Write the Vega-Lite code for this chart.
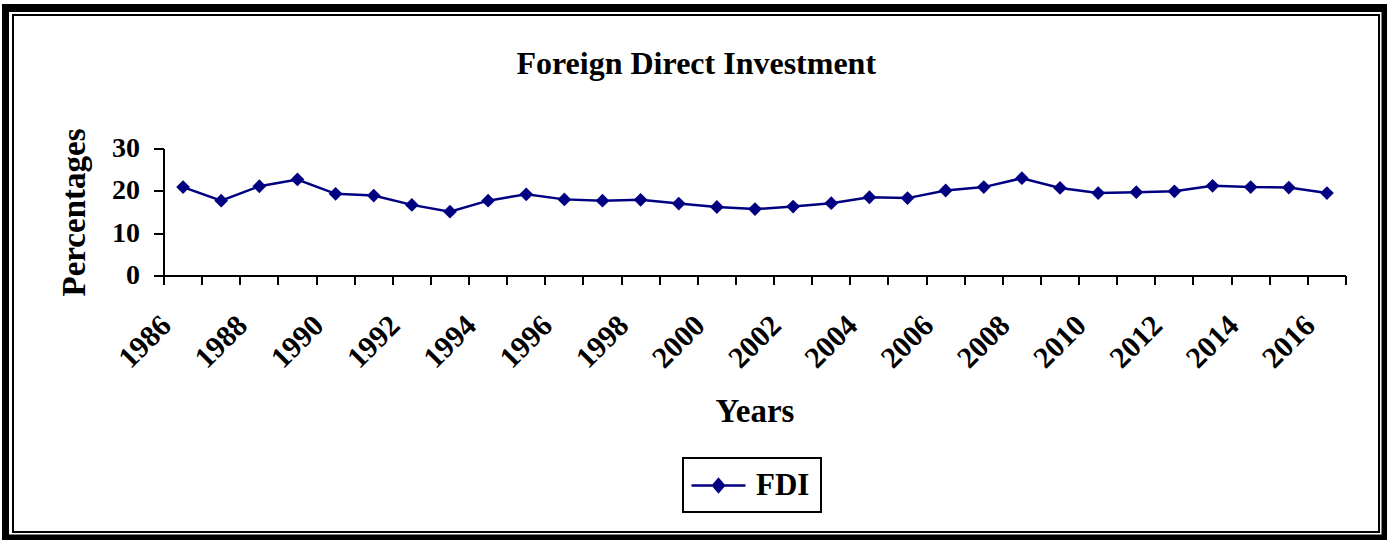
{
  "$schema": "https://vega.github.io/schema/vega-lite/v6.json",
  "width": 1182,
  "height": 127,
  "autosize": {"type": "none"},
  "padding": {"left": 164, "top": 149, "right": 41, "bottom": 264},
  "background": "white",
  "title": {
    "text": "Foreign Direct Investment",
    "frame": "bounds",
    "anchor": "middle",
    "offset": -73,
    "dx": -81,
    "font": "Liberation Serif",
    "fontSize": 32,
    "fontWeight": "bold",
    "color": "black"
  },
  "config": {"view": {"stroke": null}, "axis": {"translate": 0}},
  "layer": [
    {
      "data": {
        "values": [
          {"year": 1986, "fdi": 21.0},
          {"year": 1987, "fdi": 17.8},
          {"year": 1988, "fdi": 21.2},
          {"year": 1989, "fdi": 22.8},
          {"year": 1990, "fdi": 19.4},
          {"year": 1991, "fdi": 19.0},
          {"year": 1992, "fdi": 16.8},
          {"year": 1993, "fdi": 15.2},
          {"year": 1994, "fdi": 17.8},
          {"year": 1995, "fdi": 19.3},
          {"year": 1996, "fdi": 18.1},
          {"year": 1997, "fdi": 17.8},
          {"year": 1998, "fdi": 18.0},
          {"year": 1999, "fdi": 17.1},
          {"year": 2000, "fdi": 16.3},
          {"year": 2001, "fdi": 15.8},
          {"year": 2002, "fdi": 16.4},
          {"year": 2003, "fdi": 17.2},
          {"year": 2004, "fdi": 18.6},
          {"year": 2005, "fdi": 18.4},
          {"year": 2006, "fdi": 20.2},
          {"year": 2007, "fdi": 21.0},
          {"year": 2008, "fdi": 23.1},
          {"year": 2009, "fdi": 20.8},
          {"year": 2010, "fdi": 19.6},
          {"year": 2011, "fdi": 19.8},
          {"year": 2012, "fdi": 20.0},
          {"year": 2013, "fdi": 21.3},
          {"year": 2014, "fdi": 21.0},
          {"year": 2015, "fdi": 20.9},
          {"year": 2016, "fdi": 19.6}
        ]
      },
      "mark": {
        "type": "line",
        "strokeWidth": 2.5,
        "point": {"filled": true, "shape": "diamond", "size": 190}
      },
      "encoding": {
        "x": {
          "field": "year",
          "type": "quantitative",
          "scale": {"domain": [1985.5, 2016.5], "nice": false, "zero": false},
          "axis": {
            "orient": "bottom",
            "values": [1985.5, 1986.5, 1987.5, 1988.5, 1989.5, 1990.5, 1991.5, 1992.5, 1993.5, 1994.5, 1995.5, 1996.5, 1997.5, 1998.5, 1999.5, 2000.5, 2001.5, 2002.5, 2003.5, 2004.5, 2005.5, 2006.5, 2007.5, 2008.5, 2009.5, 2010.5, 2011.5, 2012.5, 2013.5, 2014.5, 2015.5, 2016.5],
            "tickSize": 9,
            "tickWidth": 2,
            "tickColor": "black",
            "domainColor": "black",
            "domainWidth": 2,
            "grid": false,
            "labelExpr": "(datum.value + 0.5) % 2 == 0 ? format(datum.value + 0.5, 'd') : ''",
            "labelAngle": -45,
            "labelAlign": "right",
            "labelBaseline": "middle",
            "labelOffset": 2.5,
            "labelPadding": 36,
            "labelFont": "Liberation Serif",
            "labelFontSize": 30,
            "labelFontWeight": "bold",
            "labelColor": "black",
            "labelFlush": false,
            "labelOverlap": false,
            "title": "Years",
            "titleFont": "Liberation Serif",
            "titleFontSize": 33,
            "titleFontWeight": "bold",
            "titleColor": "black",
            "titlePadding": 22
          }
        },
        "y": {
          "field": "fdi",
          "type": "quantitative",
          "scale": {"domain": [0, 30], "nice": false},
          "axis": {
            "values": [0, 10, 20, 30],
            "tickSize": 10,
            "tickWidth": 2,
            "tickColor": "black",
            "domainColor": "black",
            "domainWidth": 2,
            "grid": false,
            "labelPadding": 14,
            "labelFont": "Liberation Serif",
            "labelFontSize": 28,
            "labelFontWeight": "bold",
            "labelColor": "black",
            "labelFlush": false,
            "title": "Percentages",
            "titleFont": "Liberation Serif",
            "titleFontSize": 33,
            "titleFontWeight": "bold",
            "titleColor": "black",
            "titlePadding": 20
          }
        },
        "color": {
          "datum": "FDI",
          "type": "nominal",
          "scale": {"range": ["#000080"]},
          "legend": {
            "orient": "none",
            "legendX": 519,
            "legendY": 309,
            "title": null,
            "padding": 11,
            "strokeColor": "black",
            "fillColor": "white",
            "labelFont": "Liberation Serif",
            "labelFontSize": 31,
            "labelFontWeight": "bold",
            "labelColor": "black",
            "labelOffset": 21,
            "symbolOffset": 8,
            "symbolType": "M-1.8,0L1.8,0M-0.36,0L0,-0.42L0.36,0L0,0.42Z",
            "symbolSize": 900,
            "encode": {
              "legend": {"update": {"strokeWidth": {"value": 2}}},
              "symbols": {"update": {"fill": {"value": "#000080"}, "stroke": {"value": "#000080"}, "strokeWidth": {"value": 2.5}}}
            }
          }
        }
      }
    },
    {
      "data": {"values": [{"u": 0.5}]},
      "mark": {"type": "point", "opacity": 0},
      "encoding": {
        "x": {"field": "u", "type": "quantitative", "scale": {"domain": [0, 1], "range": [-162, 1223]},
          "axis": {"orient": "top", "offset": 141, "domainWidth": 8, "domainColor": "black", "ticks": false, "labels": false, "grid": false, "title": null}},
        "y": {"field": "u", "type": "quantitative", "scale": {"domain": [0, 1], "range": [391, -145]},
          "axis": {"orient": "left", "offset": 158.5, "domainWidth": 7, "domainColor": "black", "ticks": false, "labels": false, "grid": false, "title": null}}
      }
    },
    {
      "data": {"values": [{"u": 0.5}]},
      "mark": {"type": "point", "opacity": 0},
      "encoding": {
        "x": {"field": "u", "type": "quantitative", "scale": {"domain": [0, 1], "range": [-162, 1223]},
          "axis": {"orient": "bottom", "offset": 261.5, "domainWidth": 6, "domainColor": "black", "ticks": false, "labels": false, "grid": false, "title": null}},
        "y": {"field": "u", "type": "quantitative", "scale": {"domain": [0, 1], "range": [391, -145]},
          "axis": {"orient": "right", "offset": 38.5, "domainWidth": 6, "domainColor": "black", "ticks": false, "labels": false, "grid": false, "title": null}}
      }
    },
    {
      "data": {"values": [{"u": 0.5}]},
      "mark": {"type": "point", "opacity": 0},
      "encoding": {
        "x": {"field": "u", "type": "quantitative", "scale": {"domain": [0, 1], "range": [-152, 1216]},
          "axis": {"orient": "top", "offset": 134, "domainWidth": 2, "domainColor": "black", "ticks": false, "labels": false, "grid": false, "title": null}},
        "y": {"field": "u", "type": "quantitative", "scale": {"domain": [0, 1], "range": [384, -135]},
          "axis": {"orient": "left", "offset": 151, "domainWidth": 2, "domainColor": "black", "ticks": false, "labels": false, "grid": false, "title": null}}
      }
    },
    {
      "data": {"values": [{"u": 0.5}]},
      "mark": {"type": "point", "opacity": 0},
      "encoding": {
        "x": {"field": "u", "type": "quantitative", "scale": {"domain": [0, 1], "range": [-152, 1216]},
          "axis": {"orient": "bottom", "offset": 256, "domainWidth": 2, "domainColor": "black", "ticks": false, "labels": false, "grid": false, "title": null}},
        "y": {"field": "u", "type": "quantitative", "scale": {"domain": [0, 1], "range": [384, -135]},
          "axis": {"orient": "right", "offset": 33, "domainWidth": 2, "domainColor": "black", "ticks": false, "labels": false, "grid": false, "title": null}}
      }
    }
  ],
  "resolve": {
    "scale": {"x": "independent", "y": "independent"},
    "axis": {"x": "independent", "y": "independent"}
  }
}
